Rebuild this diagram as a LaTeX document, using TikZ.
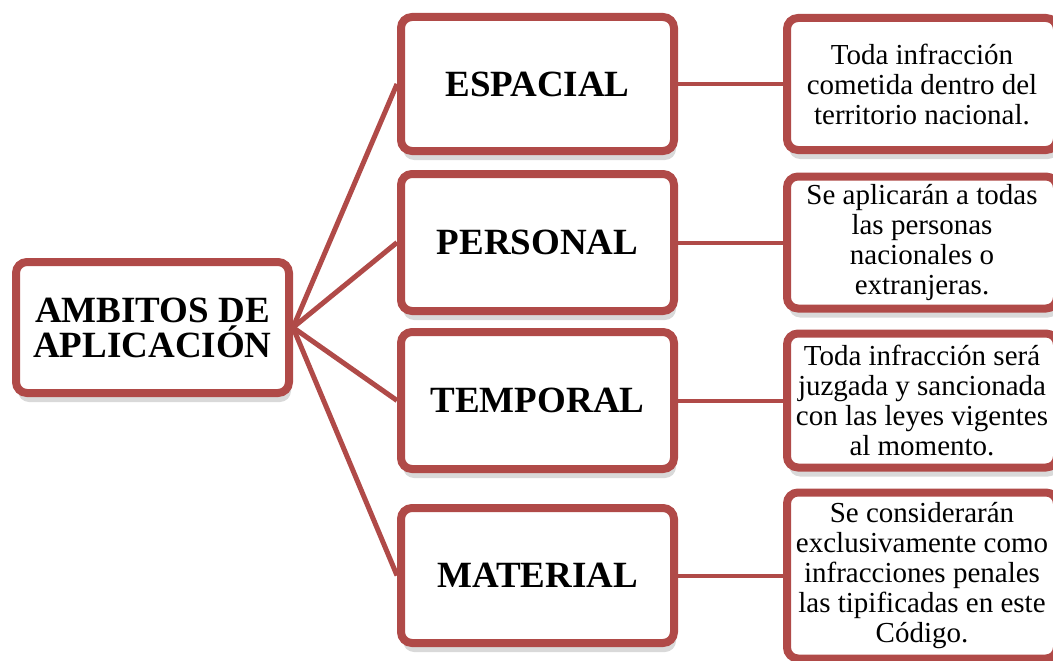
\documentclass[tikz,border=0pt]{standalone}
\usepackage{fontspec}
\setmainfont{Liberation Serif}
\usetikzlibrary{positioning,shadows}
\definecolor{rojoborde}{RGB}{176,74,72}
\tikzset{caja/.style={draw=rojoborde, line width=8pt, rounded corners=11pt, fill=white,
    align=center, inner sep=2pt,
    drop shadow={shadow xshift=2pt, shadow yshift=-9pt, opacity=.3}},
  titulo/.style={caja, minimum width=273pt, minimum height=134pt,
    font=\fontsize{37}{35}\selectfont\bfseries},
  detalle/.style={caja, minimum width=270pt, minimum height=132pt,
    font=\fontsize{29}{30}\selectfont},
  enlace/.style={draw=rojoborde, line width=5pt, line join=round}}

\begin{document}
\begin{tikzpicture}[x=1pt,y=-1pt,node distance=105pt]
    \useasboundingbox (0,0) rectangle (1053,661);
    \clip (0,0) rectangle (1053,661);

    \node[titulo, minimum height=131pt] (ambitos) at (152.5,327.5) {AMBITOS DE\\APLICACIÓN};

    \node[titulo]                       (espacial) at (537.5,84)    {ESPACIAL};
    \node[titulo, minimum height=137pt] (personal) at (537.5,242.5) {PERSONAL};
    \node[titulo, minimum height=137pt] (temporal) at (537.5,400.5) {TEMPORAL};
    \node[titulo, minimum height=135pt] (material) at (537.5,575.5) {MATERIAL};

    \node[detalle, right=of espacial] (d-espacial) {Toda infracción\\cometida dentro del\\territorio nacional.};
    \node[detalle, right=of personal] (d-personal) {Se aplicarán a todas\\las personas\\nacionales o\\extranjeras.};
    \node[detalle, right=of temporal, minimum height=134pt] (d-temporal) {Toda infracción será\\juzgada y sancionada\\con las leyes vigentes\\al momento.};
    \node[detalle, right=of material, minimum height=166pt] (d-material) {Se considerarán\\exclusivamente como\\infracciones penales\\las tipificadas en este\\Código.};

    \foreach \m in {espacial,personal,temporal,material}
      \path[enlace] (ambitos.east) -- (\m.west);
    \foreach \m in {espacial,personal,temporal,material}
      \path[enlace, line width=4pt] (\m) -- (d-\m);
\end{tikzpicture}
\end{document}
